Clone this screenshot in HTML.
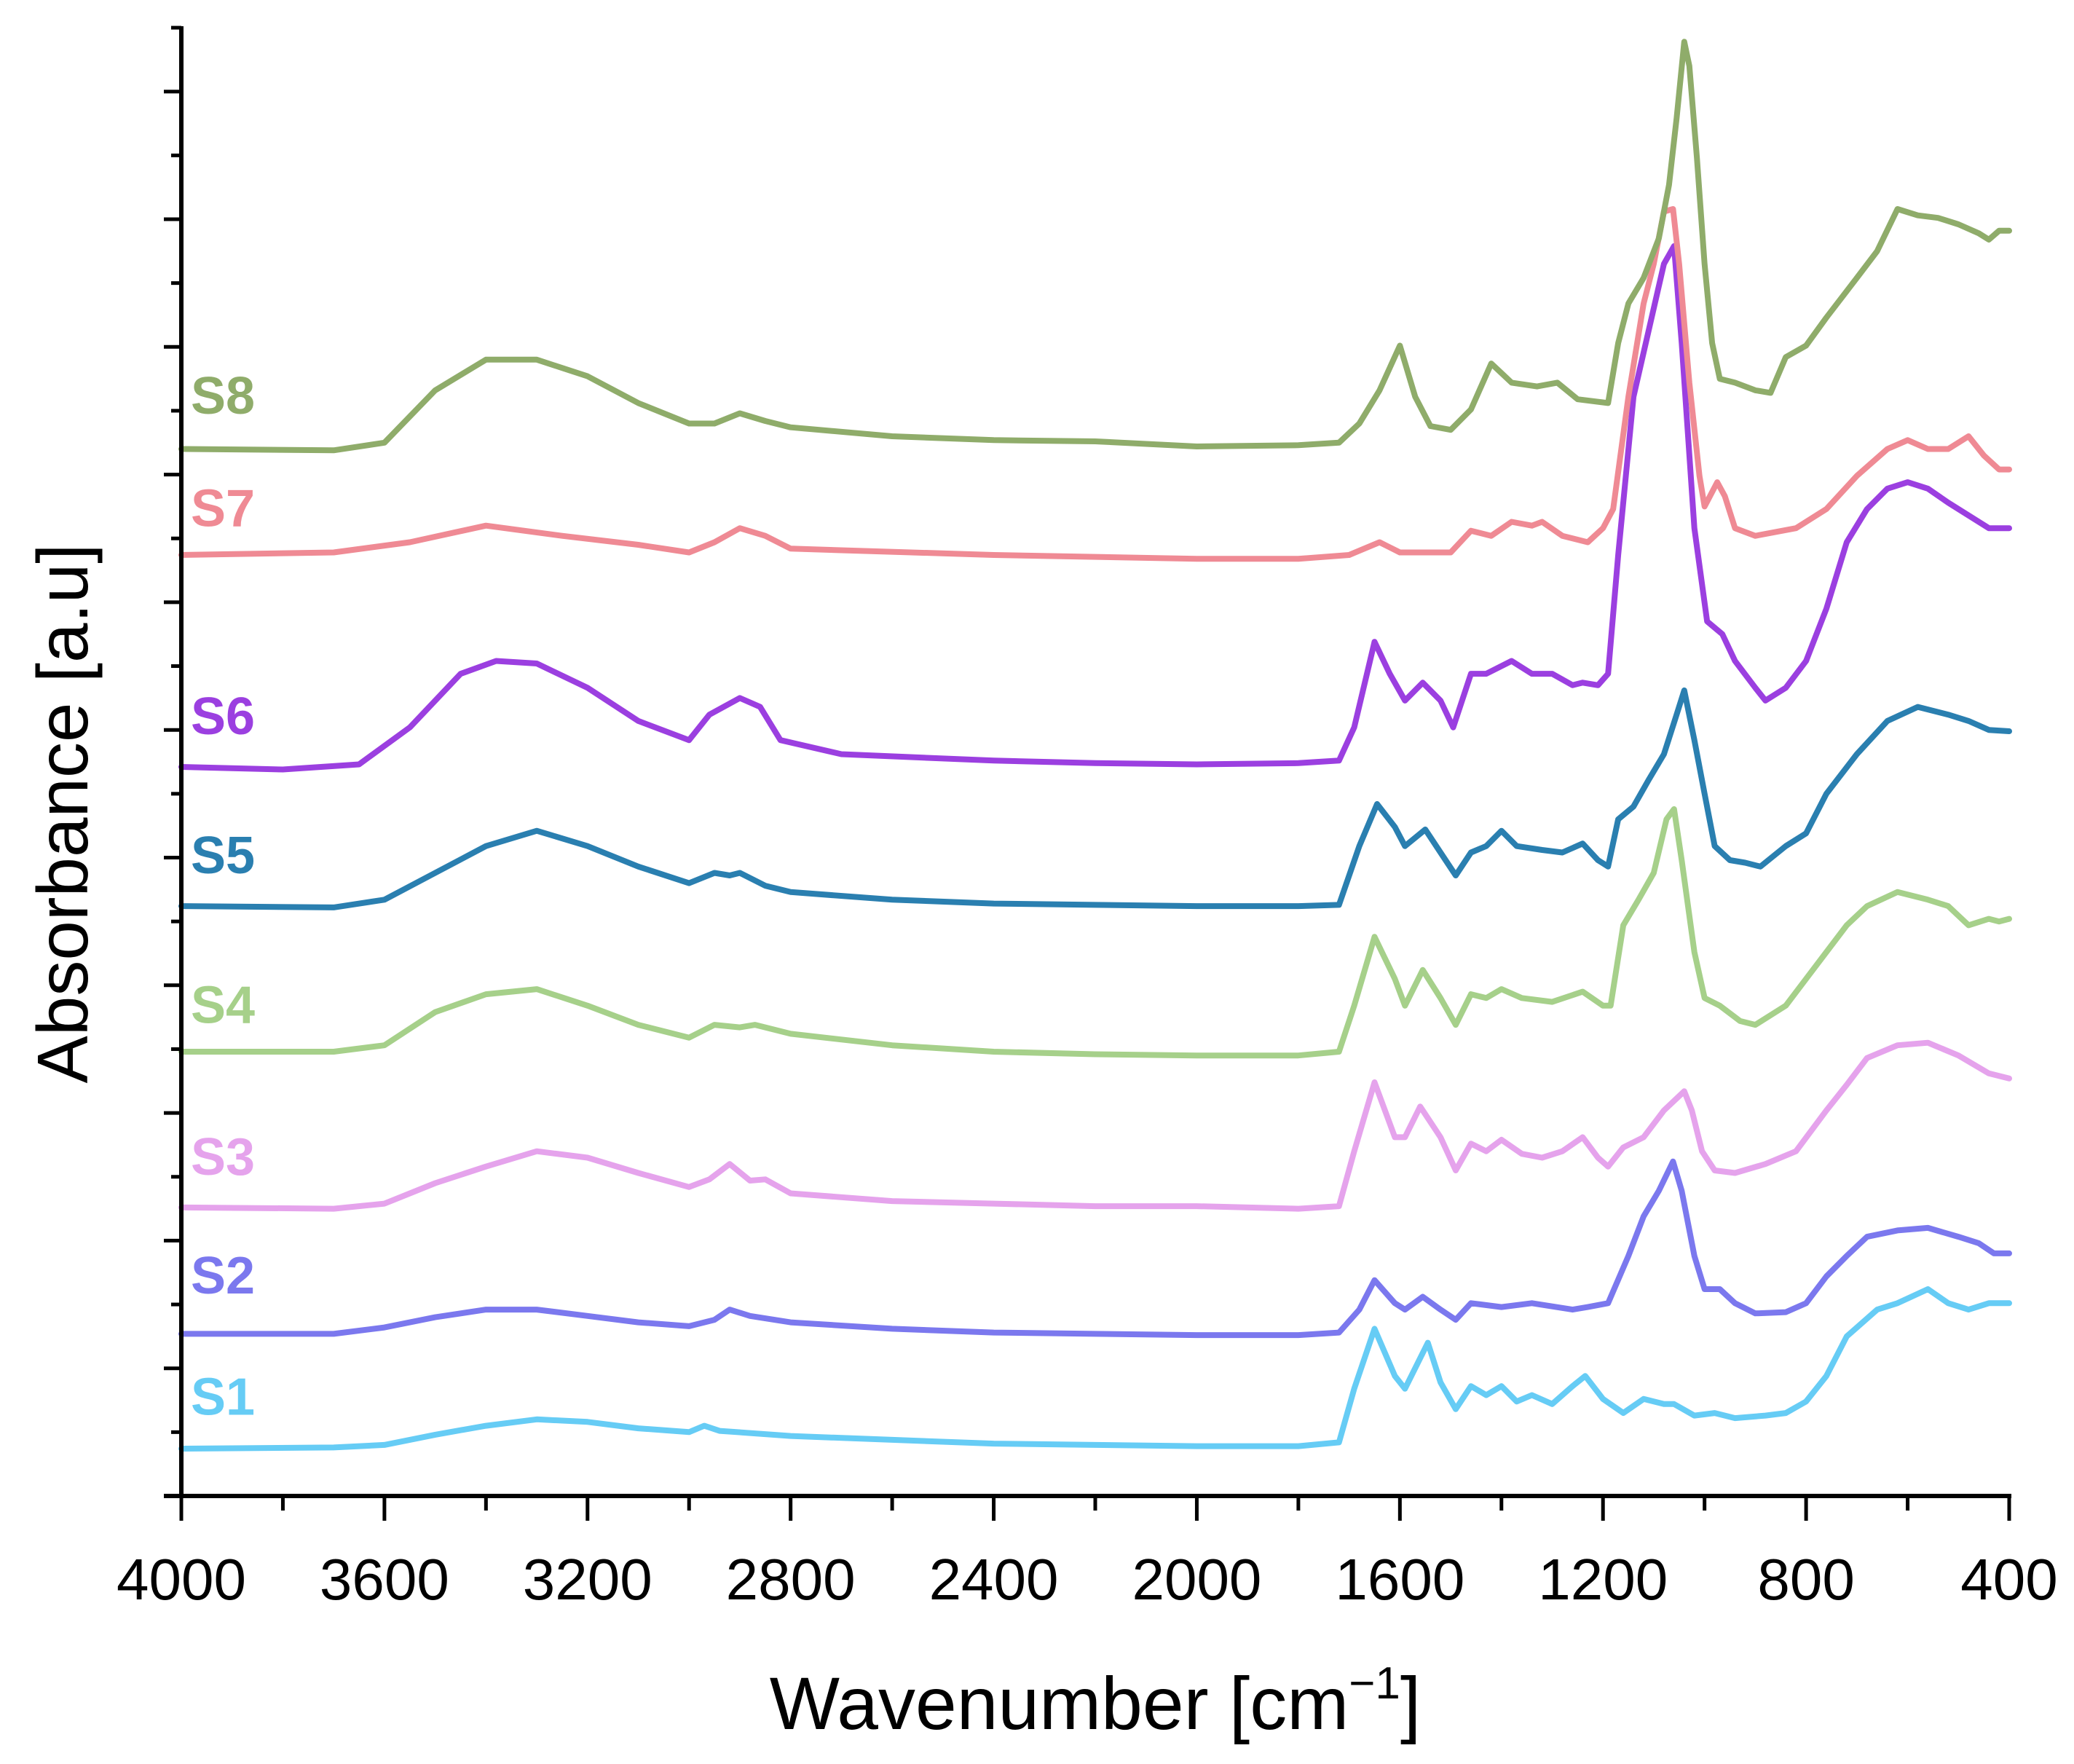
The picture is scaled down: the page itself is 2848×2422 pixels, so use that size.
<!DOCTYPE html>
<html><head><meta charset="utf-8"><style>
html,body{margin:0;padding:0;background:#fff;}
svg{display:block;font-family:"Liberation Sans",Arial,sans-serif;}
</style></head><body>
<svg id="chart" width="2848" height="2422" viewBox="0 0 2848 2422" xmlns="http://www.w3.org/2000/svg">
<rect width="2848" height="2422" fill="#ffffff"/>
<g id="series"></g>
<g id="axes"></g>
</svg>
<script>
const xTicks = [4000,3600,3200,2800,2400,2000,1600,1200,800,400];
const xTickLabels = ["4000","3600","3200","2800","2400","2000","1600","1200","800","400"];
const seriesNames = ["S1","S2","S3","S4","S5","S6","S7","S8"];
const seriesColors = ["#66ccf5","#7b78ee","#e5a3ec","#a6d08a","#2a7fb0","#9b3fe0","#ef8a94","#8fac6a"];

const wnS8 = [4000,3700,3600,3500,3400,3300,3200,3100,3000,2950,2900,2850,2800,2600,2400,2200,2000,1800,1720,1680,1640,1600,1570,1540,1500,1460,1420,1380,1330,1290,1250,1190,1170,1150,1120,1090,1070,1055,1040,1030,1015,1000,985,970,940,900,870,840,800,760,700,660,620,580,540,500,460,440,420,400];
const abS8 = [8.20,8.19,8.25,8.66,8.90,8.90,8.77,8.56,8.40,8.40,8.48,8.42,8.37,8.30,8.27,8.26,8.22,8.23,8.25,8.40,8.66,9.01,8.61,8.38,8.35,8.51,8.87,8.72,8.69,8.72,8.59,8.56,9.03,9.34,9.54,9.85,10.27,10.79,11.39,11.20,10.48,9.65,9.03,8.75,8.72,8.66,8.64,8.92,9.01,9.23,9.54,9.75,10.08,10.03,10.01,9.96,9.89,9.84,9.91,9.91];

const wnS7 = [4000,3700,3550,3400,3250,3100,3000,2950,2900,2850,2800,2400,2000,1800,1700,1640,1600,1500,1460,1420,1380,1340,1320,1280,1230,1200,1180,1150,1120,1100,1080,1062,1050,1030,1010,1000,975,960,940,900,820,760,700,640,600,560,520,480,450,420,400];
const abS7 = [7.37,7.39,7.47,7.60,7.52,7.45,7.39,7.47,7.58,7.52,7.42,7.37,7.34,7.34,7.37,7.47,7.39,7.39,7.56,7.52,7.63,7.60,7.63,7.52,7.47,7.58,7.73,8.61,9.34,9.65,10.06,10.08,9.65,8.72,7.99,7.75,7.94,7.83,7.58,7.52,7.58,7.73,7.99,8.20,8.27,8.20,8.20,8.30,8.15,8.04,8.04];

const wnS6 = [4000,3800,3650,3550,3450,3380,3300,3200,3100,3000,2960,2900,2860,2820,2700,2400,2200,2000,1800,1720,1690,1650,1620,1590,1555,1520,1495,1460,1430,1380,1340,1300,1260,1240,1210,1190,1170,1140,1110,1080,1060,1045,1020,995,965,940,900,880,840,800,760,720,680,640,600,560,520,480,440,400];
const abS6 = [5.71,5.69,5.73,6.02,6.44,6.54,6.52,6.33,6.07,5.92,6.12,6.25,6.18,5.92,5.81,5.76,5.74,5.73,5.74,5.76,6.02,6.69,6.44,6.23,6.37,6.23,6.02,6.44,6.44,6.54,6.44,6.44,6.35,6.37,6.35,6.44,7.37,8.61,9.13,9.65,9.79,9.03,7.58,6.85,6.75,6.54,6.33,6.23,6.33,6.54,6.95,7.47,7.73,7.89,7.94,7.89,7.78,7.68,7.58,7.58];

const wnS5 = [4000,3700,3600,3500,3400,3300,3200,3100,3000,2950,2920,2900,2850,2800,2600,2400,2200,2000,1800,1720,1680,1645,1610,1590,1550,1520,1490,1460,1430,1400,1370,1320,1280,1240,1210,1190,1170,1140,1110,1080,1055,1040,1020,1000,980,950,920,890,840,800,760,700,640,580,520,480,440,400];
const abS5 = [4.62,4.61,4.67,4.88,5.09,5.21,5.09,4.93,4.80,4.88,4.86,4.88,4.78,4.73,4.67,4.64,4.63,4.62,4.62,4.63,5.09,5.42,5.24,5.09,5.22,5.04,4.86,5.04,5.09,5.21,5.09,5.06,5.04,5.11,4.98,4.93,5.30,5.40,5.61,5.81,6.12,6.31,5.92,5.50,5.09,4.98,4.96,4.93,5.09,5.19,5.50,5.81,6.07,6.18,6.12,6.07,6.00,5.99];

const wnS4 = [4000,3700,3600,3500,3400,3300,3200,3100,3000,2950,2900,2870,2800,2600,2400,2200,2000,1800,1720,1690,1650,1610,1590,1555,1520,1490,1460,1430,1400,1360,1300,1240,1200,1185,1160,1130,1100,1075,1060,1045,1020,1000,970,930,900,840,800,760,720,680,620,560,520,480,440,420,400];
const abS4 = [3.48,3.48,3.53,3.79,3.93,3.97,3.84,3.69,3.59,3.69,3.67,3.69,3.62,3.53,3.48,3.46,3.45,3.45,3.48,3.84,4.38,4.05,3.84,4.12,3.90,3.69,3.93,3.90,3.97,3.90,3.87,3.95,3.84,3.84,4.47,4.67,4.88,5.30,5.38,4.98,4.26,3.90,3.84,3.72,3.69,3.84,4.05,4.26,4.47,4.62,4.73,4.67,4.62,4.47,4.52,4.50,4.52];

const wnS3 = [4000,3700,3600,3500,3400,3300,3200,3100,3000,2960,2920,2880,2850,2800,2600,2400,2200,2000,1800,1720,1690,1650,1610,1590,1560,1520,1490,1460,1430,1400,1360,1320,1280,1240,1210,1190,1160,1120,1080,1040,1025,1005,980,940,880,820,760,720,680,620,560,500,440,400];
const abS3 = [2.26,2.25,2.29,2.45,2.58,2.70,2.65,2.53,2.42,2.48,2.60,2.47,2.48,2.37,2.31,2.29,2.27,2.27,2.25,2.27,2.70,3.24,2.81,2.81,3.05,2.81,2.55,2.76,2.70,2.79,2.68,2.65,2.70,2.81,2.65,2.58,2.73,2.81,3.02,3.17,3.02,2.70,2.55,2.53,2.60,2.70,3.02,3.22,3.43,3.53,3.55,3.45,3.31,3.27];

const wnS2 = [4000,3700,3600,3500,3400,3300,3200,3100,3000,2950,2920,2880,2800,2600,2400,2200,2000,1800,1720,1680,1650,1610,1590,1555,1520,1490,1460,1400,1340,1260,1230,1190,1150,1120,1090,1062,1045,1020,1000,970,940,900,840,800,760,720,680,620,560,500,460,430,400];
const abS2 = [1.27,1.27,1.32,1.40,1.46,1.46,1.41,1.36,1.33,1.38,1.46,1.41,1.36,1.31,1.28,1.27,1.26,1.26,1.28,1.46,1.69,1.51,1.46,1.56,1.46,1.38,1.51,1.48,1.51,1.46,1.48,1.51,1.88,2.19,2.39,2.62,2.39,1.88,1.62,1.62,1.51,1.43,1.44,1.51,1.72,1.88,2.03,2.08,2.10,2.03,1.98,1.90,1.90];

const wnS1 = [4000,3700,3600,3500,3400,3300,3200,3100,3000,2970,2940,2800,2600,2400,2200,2000,1800,1720,1690,1650,1610,1590,1545,1520,1490,1460,1430,1400,1370,1340,1300,1260,1235,1200,1160,1120,1080,1060,1020,980,940,880,840,800,760,720,660,620,560,520,480,440,400];
const abS1 = [0.37,0.38,0.40,0.48,0.55,0.60,0.58,0.53,0.50,0.55,0.51,0.47,0.44,0.41,0.40,0.39,0.39,0.42,0.84,1.31,0.94,0.84,1.20,0.89,0.68,0.86,0.79,0.86,0.74,0.79,0.72,0.86,0.94,0.76,0.65,0.76,0.72,0.72,0.63,0.65,0.61,0.63,0.65,0.74,0.94,1.25,1.46,1.51,1.62,1.51,1.46,1.51,1.51];

const seriesWn = [wnS1,wnS2,wnS3,wnS4,wnS5,wnS6,wnS7,wnS8];
const seriesAb = [abS1,abS2,abS3,abS4,abS5,abS6,abS7,abS8];
const labelAb = [0.79,1.74,2.67,3.86,5.03,6.12,7.75,8.63];

const NS = "http://www.w3.org/2000/svg";
const X0 = 249, X1 = 2759, Y0 = 2054, UNIT = 175.3, YTOP = 36;
function xScale(w){ return X0 + (4000 - w) / 3600 * (X1 - X0); }
function yScale(v){ return Y0 - v * UNIT; }
function mk(tag, attrs, parent){ const e = document.createElementNS(NS, tag); for (const k in attrs) e.setAttribute(k, attrs[k]); parent.appendChild(e); return e; }

const sg = document.getElementById('series');
const ax = document.getElementById('axes');

for (let s = 0; s < seriesNames.length; s++) {
  const wn = seriesWn[s], ab = seriesAb[s];
  let d = '';
  for (let i = 0; i < wn.length; i++) d += (i ? 'L' : 'M') + xScale(wn[i]).toFixed(1) + ',' + yScale(ab[i]).toFixed(1);
  const p = mk('path', {d: d, fill: 'none', stroke: seriesColors[s], 'stroke-width': 8, 'stroke-linejoin': 'round', 'stroke-linecap': 'round'}, sg);
  
  
  const t = mk('text', {x: 262, y: yScale(labelAb[s]) + 27, fill: seriesColors[s], 'font-size': 72, 'font-weight': 'bold'}, sg);
  t.textContent = seriesNames[s];
  
  
}

const yl = mk('line', {x1: X0, y1: YTOP, x2: X0, y2: Y0 + 3, stroke: '#000', 'stroke-width': 6}, ax);


const xl = mk('line', {x1: X0 - 24, y1: Y0, x2: X1 + 3, y2: Y0, stroke: '#000', 'stroke-width': 6}, ax);



for (let v = 0.5; v <= 11.5; v += 0.5) {
  const major = Math.abs(v - Math.round(v)) < 0.01;
  const tk = mk('line', {x1: X0 - (major ? 24 : 14), y1: yScale(v), x2: X0, y2: yScale(v), stroke: '#000', 'stroke-width': 5}, ax);
  
  
}
for (let w = 4000; w >= 400; w -= 200) {
  const major = w % 400 === 0;
  const tk = mk('line', {x1: xScale(w), y1: Y0, x2: xScale(w), y2: Y0 + (major ? 34 : 20), stroke: '#000', 'stroke-width': 5}, ax);
  
  
}
for (let i = 0; i < xTicks.length; i++) {
  const t = mk('text', {x: xScale(xTicks[i]), y: 2196, 'text-anchor': 'middle', 'font-size': 80, fill: '#000'}, ax);
  t.textContent = xTickLabels[i];
  
  
}
const xt = mk('text', {x: 1504, y: 2374, 'text-anchor': 'middle', 'font-size': 102, fill: '#000'}, ax);
xt.innerHTML = 'Wavenumber [cm<tspan dy="-42" font-size="62">−1</tspan><tspan dy="42">]</tspan>';


const ytl = mk('text', {x: 0, y: 0, 'text-anchor': 'middle', 'font-size': 98, fill: '#000', transform: 'translate(120,1117) rotate(-90)'}, ax);
ytl.textContent = 'Absorbance [a.u]';


</script>
</body></html>
